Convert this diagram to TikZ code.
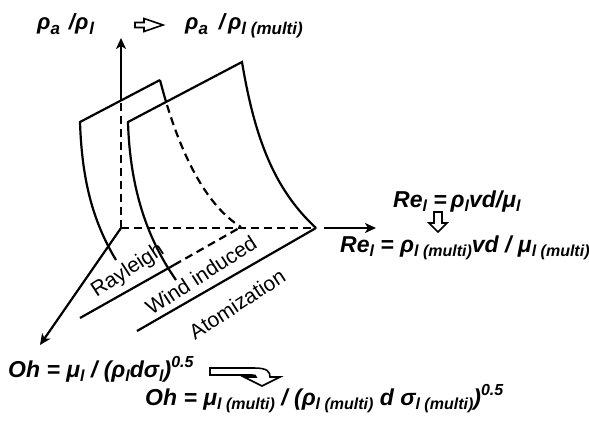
\documentclass[tikz,border=0pt]{standalone}
\usepackage{fontspec}
\setmainfont{Liberation Sans}
\usetikzlibrary{arrows.meta}
\newcommand\sbs[1]{\raisebox{-4.7pt}{\fontsize{16}{17}\selectfont #1}}
\newcommand\tsb[1]{\raisebox{-4.5pt}{\fontsize{17}{18}\selectfont #1}}
\newcommand\sps[1]{\raisebox{9.5pt}{\fontsize{16}{17}\selectfont #1}}
\begin{document}
\begin{tikzpicture}[x=1pt,y=-1pt,
  ln/.style={line width=2.2pt},
  dsh/.style={line width=2.2pt, dash pattern=on 8pt off 5pt},
  ax/.style={line width=2.2pt,-{Stealth[length=11pt,width=10pt,inset=3pt]}},
  eq/.style={inner sep=0pt, anchor=base west, font=\fontsize{23}{25}\selectfont\bfseries\itshape},
  teq/.style={inner sep=0pt, anchor=base west, font=\fontsize{22}{24}\selectfont\bfseries\itshape},
  lbl/.style={inner sep=0pt, rotate=33, font=\fontsize{21}{23}\selectfont},
  hollow/.style={line width=1.6pt, fill=white, line join=miter}
]
\useasboundingbox (0,0) rectangle (589,428);
% key points
\coordinate (O) at (121,228);
\coordinate (V) at (121,38);
\coordinate (Vs) at (121,100.5);
\coordinate (H) at (376,228);
\coordinate (Hs) at (324,228);
\coordinate (D) at (40,345);
\coordinate (A1) at (80,122);
\coordinate (B1) at (160,80);
\coordinate (L1) at (116,260);
\coordinate (E1) at (241,227);
\coordinate (A2) at (128,122);
\coordinate (B2) at (242,62);
\coordinate (L2) at (176,280);
\coordinate (C2) at (316,228);
\coordinate (P1) at (80,318);
\coordinate (P1s) at (174,265);
\coordinate (P2) at (137,331);

% axes
\draw[dsh] (O) -- (Vs);
\draw[ax] (Vs) -- (V);
\draw[dsh] (O) -- (C2);
\draw[ax] (Hs) -- (H);
\draw[ax] (O) -- (D);

% surface 1
\draw[ln] (L1) .. controls (95,225) and (82,185) .. (A1) -- (B1);
\begin{scope}
  \clip (0,189.4) -- (400,-21) -- (400,-60) -- (0,-60) -- cycle;
  \draw[ln] (B1) .. controls (178,150) and (205,205) .. (E1);
\end{scope}
\begin{scope}
  \clip (0,189.4) -- (400,-21) -- (400,500) -- (0,500) -- cycle;
  \draw[dsh] (B1) .. controls (178,150) and (205,205) .. (E1);
\end{scope}

% surface 2
\draw[ln] (L2) .. controls (148,240) and (130,190) .. (A2) -- (B2)
  .. controls (255,140) and (275,190) .. (C2);

% floor lines
\draw[ln] (P1) -- (P1s);
\draw[dsh] (P1s) -- (E1);
\draw[ln] (P2) -- (C2);

% regime labels
\node[lbl] (ray) at (128,271) {Rayleigh};
\node[lbl] (wind) at (201,275) {Wind induced};
\node[lbl] (atom) at (237,304) {Atomization};

% top labels
\node[teq] (t1) at (37,30) {ρ\tsb{a}\hspace{9pt}/ρ\hspace{1pt}\tsb{l}};
\node[teq] (t2) at (185,30) {ρ\tsb{a}\hspace{11pt}/\hspace{3pt}ρ\tsb{l (multi)}};
\draw[hollow] (135,22.5) -- (144,22.5) -- (144,18.5) -- (163,25) -- (144,31.5) -- (144,27.5) -- (135,27.5) -- cycle;

% Reynolds
\draw[hollow] (434,212) -- (442,212) -- (442,223) -- (447,223) -- (438,232) -- (429,223) -- (434,223) -- cycle;
\node[eq] (r1) at (393,207) {Re\sbs{l} =\,ρ\sbs{l}vd/μ\sbs{l}};
\node[eq] (r2) at (340,252) {Re\sbs{l} = ρ\sbs{l (multi)}vd / μ\sbs{l (multi)}};

% Ohnesorge
\node[eq] (o1) at (8,377) {Oh = μ\sbs{l} / (ρ\sbs{l}dσ\sbs{l})\sps{0.5}};
\draw[hollow] (210,368) -- (254,368) .. controls (268,368) and (270,372) .. (270,377)
  -- (280,377) -- (262,386) -- (244,377) -- (256,377) .. controls (256,375.5) and (255,375) .. (252,375)
  -- (210,375) -- cycle;
\node[eq] (o2) at (145,405) {Oh = μ\sbs{l (multi)} / (ρ\sbs{l (multi)} d σ\sbs{l (multi)})\sps{0.5}};
\end{tikzpicture}
\end{document}
